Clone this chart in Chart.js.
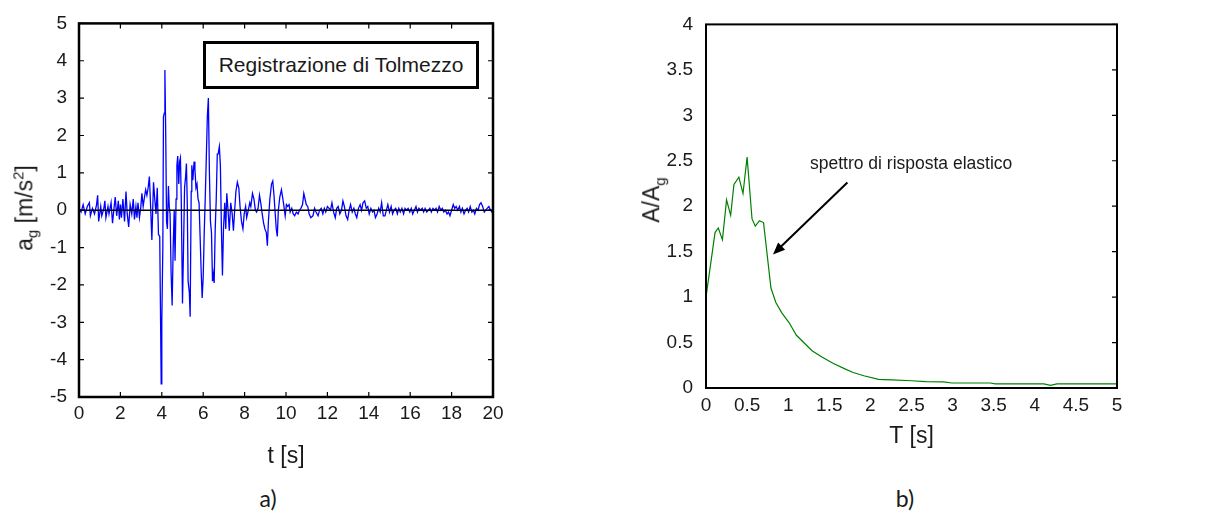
<!DOCTYPE html>
<html>
<head>
<meta charset="utf-8">
<script src="https://cdn.jsdelivr.net/npm/chart.js@4"></script>
<style>
  body { margin: 0; background: #fff; width: 1207px; height: 512px; position: relative; overflow: hidden;
         font-family: "Liberation Sans", Arial, sans-serif; color: #1a1a1a; }
  #accChart { position: absolute; left: 0; top: 0; }
  #specChart { position: absolute; left: 600px; top: 0; }
  .ytitle { position: absolute; font-size: 23px; white-space: nowrap;
            transform: translate(-50%, -50%) rotate(-90deg); }
  .ytitle sub, .ytitle sup { font-size: 15px; }
  #legendBox { position: absolute; left: 203px; top: 41px; width: 270px; height: 42px;
               border: 3px solid #000; font-size: 21px; line-height: 42px; text-align: center; background: #fff; }
  .panel { position: absolute; top: 484px; font-family: Lato, "Open Sans", sans-serif; font-size: 23px;
           transform: translateX(-50%); }
</style>
</head>
<body>
<canvas id="accChart" width="600" height="475"></canvas>
<canvas id="specChart" width="607" height="450"></canvas>
<div class="ytitle" style="left:25px; top:208px;">a<sub>g</sub> [m/s<sup>2</sup>]</div>
<div class="ytitle" style="left:653px; top:200px;">A/A<sub>g</sub></div>
<div id="legendBox">Registrazione di Tolmezzo</div>
<div class="panel" style="left:268px;">a)</div>
<div class="panel" style="left:905px;">b)</div>
<script>
// accelerogram, Tolmezzo record
const accTime = [
  0, 0.1, 0.2, 0.3, 0.4, 0.5, 0.55, 0.65, 0.75, 0.85, 0.9, 0.95, 1.05, 1.1, 1.2, 1.25, 1.3, 1.4, 1.45, 1.55,
  1.62, 1.7, 1.75, 1.82, 1.9, 1.95, 2.0, 2.05, 2.12, 2.2, 2.27, 2.33, 2.4, 2.47, 2.55, 2.62, 2.68, 2.75, 2.8, 2.85,
  2.92, 2.98, 3.04, 3.1, 3.15, 3.22, 3.28, 3.34, 3.4, 3.46, 3.52, 3.56, 3.6, 3.66, 3.72, 3.78, 3.84, 3.9, 3.94, 3.97,
  4.0, 4.05, 4.08, 4.12, 4.15, 4.19, 4.23, 4.27, 4.32, 4.36, 4.4, 4.45, 4.5, 4.55, 4.6, 4.64, 4.69, 4.73, 4.77, 4.82,
  4.86, 4.9, 4.94, 5.0, 5.05, 5.1, 5.15, 5.19, 5.23, 5.27, 5.33, 5.37, 5.42, 5.45, 5.5, 5.56, 5.6, 5.65, 5.7, 5.75,
  5.8, 5.85, 5.9, 5.95, 6.0, 6.05, 6.1, 6.15, 6.2, 6.25, 6.3, 6.35, 6.4, 6.45, 6.5, 6.53, 6.58, 6.63, 6.68, 6.72,
  6.78, 6.83, 6.88, 6.93, 6.98, 7.04, 7.09, 7.14, 7.2, 7.26, 7.33, 7.4, 7.46, 7.52, 7.58, 7.65, 7.72, 7.78, 7.85, 7.92,
  7.98, 8.05, 8.1, 8.18, 8.25, 8.3, 8.38, 8.45, 8.52, 8.58, 8.65, 8.72, 8.78, 8.85, 8.92, 8.98, 9.05, 9.1, 9.15, 9.22,
  9.3, 9.36, 9.42, 9.48, 9.53, 9.58, 9.63, 9.7, 9.78, 9.85, 9.9, 9.96, 10.02, 10.08, 10.15, 10.2, 10.28, 10.35, 10.42, 10.5,
  10.58, 10.65, 10.72, 10.8, 10.86, 10.92, 10.98, 11.05, 11.12, 11.2, 11.3, 11.38, 11.45, 11.55, 11.62, 11.7, 11.78, 11.85, 11.92, 12.0,
  12.08, 12.15, 12.22, 12.3, 12.38, 12.45, 12.52, 12.6, 12.68, 12.75, 12.82, 12.9, 12.98, 13.05, 13.12, 13.2, 13.28, 13.35, 13.42, 13.5,
  13.58, 13.65, 13.72, 13.8, 13.88, 13.95, 14.02, 14.1, 14.18, 14.25, 14.32, 14.4, 14.48, 14.55, 14.62, 14.7, 14.78, 14.85, 14.92, 15.0,
  15.08, 15.15, 15.22, 15.3, 15.38, 15.45, 15.52, 15.6, 15.68, 15.75, 15.82, 15.9, 15.98, 16.05, 16.12, 16.2, 16.28, 16.35, 16.42, 16.5,
  16.58, 16.65, 16.72, 16.8, 16.88, 16.95, 17.02, 17.1, 17.18, 17.25, 17.32, 17.4, 17.48, 17.55, 17.62, 17.7, 17.78, 17.85, 17.92, 18.0,
  18.08, 18.15, 18.22, 18.3, 18.38, 18.45, 18.52, 18.6, 18.68, 18.75, 18.82, 18.9, 18.98, 19.05, 19.12, 19.2, 19.28, 19.35, 19.42, 19.5,
  19.58, 19.65, 19.72, 19.8, 19.88, 19.95, 20.0
];
const accValues = [
  0.05, -0.05, 0.15, -0.1, 0.1, 0.2, -0.15, 0.05, -0.1, 0.15, 0.4, -0.3, 0.1, -0.15, 0.05, 0.25, -0.2, 0.1, -0.1, 0.2,
  -0.35, 0.1, 0.35, -0.15, 0.25, -0.25, 0.15, -0.2, 0.3, -0.3, 0.5, -0.1, -0.45, 0.15, -0.1, 0.3, -0.25, 0.1, -0.2, 0.2,
  -0.2, 0.05, 0.45, 0.1, 0.3, 0.55, 0.4, 0.6, 0.9, 0.1, -0.8, 0.0, 0.75, 0.3, -0.1, 0.6, -0.65, -0.7, -2.9, -4.65,
  -3.0, -1.0, 2.5, 2.6, 3.75, 2.0, -0.3, -0.5, 0.65, 0.1, -0.1, -1.7, -2.55, -1.0, 0.0, -1.35, 0.3, 1.2, 1.45, 0.7,
  1.3, 1.4, 0.3, -2.5, -1.0, 0.6, 0.9, 1.25, 0.2, -1.9, -2.2, -2.85, 0.5, 1.2, 0.8, 1.3, 1.1, 0.6, 0.7, 0.3,
  0.2, -0.7, -1.6, -2.35, -1.8, -0.6, 0.35, 1.4, 2.5, 3.0, 1.0, -0.3, -0.6, -1.9, -1.7, -1.95, -0.5, 0.3, 1.5, 1.5,
  1.7, 1.2, -0.5, -1.75, -0.5, 0.2, -0.5, 0.45, 0.0, -0.55, 0.2, -0.1, -0.55, 0.0, 0.5, 0.75, 0.6, 0.1, -0.3, -0.5,
  -0.1, 0.1, -0.2, 0.0, 0.2, 0.1, 0.45, 0.3, 0.0, -0.05, 0.05, 0.4, 0.2, -0.1, -0.35, -0.5, -0.6, -0.95, -0.3, 0.3,
  0.7, 0.78, 0.4, -0.1, -0.5, -0.7, 0.0, 0.35, 0.55, 0.3, 0.1, -0.15, 0.15, 0.1, 0.15, -0.05, 0.05, -0.1, -0.15, -0.05,
  -0.1, 0.0, 0.05, 0.15, 0.45, 0.3, 0.15, 0.1, -0.1, -0.2, -0.15, 0.05, -0.05, -0.15, 0.0, 0.05, -0.1, 0.05, -0.05, 0.1,
  0.05, 0.0, 0.2, -0.05, -0.2, 0.05, 0.1, -0.1, 0.0, 0.25, 0.1, -0.15, -0.25, 0.0, 0.15, -0.05, 0.05, -0.1, -0.2, 0.05,
  0.15, 0.0, 0.2, 0.25, 0.05, 0.1, -0.1, 0.05, -0.05, 0.0, -0.2, -0.1, 0.05, -0.05, 0.2, -0.15, -0.15, 0.0, 0.15, -0.05,
  0.1, -0.1, 0.0, 0.05, -0.1, 0.05, -0.05, 0.05, -0.1, 0.05, 0.0, 0.05, -0.05, 0.05, -0.1, 0.0, 0.1, -0.05, 0.05, 0.0,
  0.05, -0.05, 0.05, -0.05, 0.0, 0.05, -0.05, 0.05, 0.0, 0.05, -0.05, 0.1, 0.0, 0.05, -0.05, 0.0, -0.1, -0.05, -0.15, 0.0,
  0.15, 0.05, 0.1, 0.0, 0.1, -0.05, 0.05, -0.1, 0.0, 0.05, -0.05, 0.1, -0.05, 0.0, -0.1, 0.05, 0.0, 0.15, 0.2, 0.1,
  -0.05, 0.0, 0.05, 0.1, 0.0, -0.05, -0.1
];

// elastic response spectrum
const specPeriod = [0, 0.11, 0.15, 0.2, 0.25, 0.3, 0.34, 0.4, 0.45, 0.5, 0.56, 0.6, 0.65, 0.7, 0.79, 0.85, 0.92,
  1.01, 1.1, 1.29, 1.41, 1.55, 1.69, 1.79, 1.92, 2.1, 2.26, 2.5, 2.67, 2.89, 2.99, 3.46, 3.52, 4.11, 4.19, 4.27, 5];
const specValues = [1.0, 1.71, 1.76, 1.63, 2.07, 1.9, 2.24, 2.32, 2.14, 2.54, 1.86, 1.78, 1.84, 1.82, 1.1, 0.94, 0.83,
  0.72, 0.58, 0.41, 0.34, 0.27, 0.21, 0.17, 0.135, 0.095, 0.09, 0.08, 0.07, 0.068, 0.055, 0.055, 0.045, 0.045, 0.03, 0.045, 0.045];

const specNote = 'spettro di risposta elastico';
const notePos = [1.265, 2.46];
const arrowFrom = [1.72, 2.26];
const arrowTo = [0.815, 1.47];

const tickFont = { family: '"Liberation Sans", Arial, sans-serif', size: 19 };
const ink = '#1a1a1a';
const plainNum = v => String(v);

// box round the plot, inward ticks, zero line and the arrow note
const frame = {
  id: 'frame',
  afterDatasetsDraw(chart, args, opts) {
    const { ctx, chartArea: a, scales } = chart;
    const x = scales.x, y = scales.y;
    ctx.save();
    ctx.strokeStyle = '#000';
    if (opts.zeroLine) {
      const p = y.getPixelForValue(0);
      ctx.lineWidth = 1.5;
      ctx.beginPath(); ctx.moveTo(a.left, p); ctx.lineTo(a.right, p); ctx.stroke();
    }
    ctx.lineWidth = 1.2;
    ctx.beginPath();
    y.ticks.forEach(t => {
      const p = y.getPixelForValue(t.value);
      if (opts.leftTicks) { ctx.moveTo(a.left, p); ctx.lineTo(a.left + 5, p); }
      ctx.moveTo(a.right, p); ctx.lineTo(a.right - 5, p);
    });
    if (opts.xTicks) {
      x.ticks.forEach(t => {
        const p = x.getPixelForValue(t.value);
        ctx.moveTo(p, a.bottom); ctx.lineTo(p, a.bottom - 5);
        ctx.moveTo(p, a.top); ctx.lineTo(p, a.top + 5);
      });
    }
    ctx.stroke();
    ctx.lineWidth = opts.width;
    ctx.strokeRect(a.left, a.top, a.right - a.left, a.bottom - a.top);

    if (opts.note) {
      const fx = x.getPixelForValue(arrowFrom[0]), fy = y.getPixelForValue(arrowFrom[1]);
      const tx = x.getPixelForValue(arrowTo[0]), ty = y.getPixelForValue(arrowTo[1]);
      const ang = Math.atan2(ty - fy, tx - fx);
      ctx.lineWidth = 2;
      ctx.beginPath(); ctx.moveTo(fx, fy);
      ctx.lineTo(tx - 8 * Math.cos(ang), ty - 8 * Math.sin(ang)); ctx.stroke();
      ctx.fillStyle = '#000';
      ctx.beginPath();
      ctx.moveTo(tx, ty);
      ctx.lineTo(tx - 12 * Math.cos(ang) + 5 * Math.sin(ang), ty - 12 * Math.sin(ang) - 5 * Math.cos(ang));
      ctx.lineTo(tx - 12 * Math.cos(ang) - 5 * Math.sin(ang), ty - 12 * Math.sin(ang) + 5 * Math.cos(ang));
      ctx.closePath(); ctx.fill();
      ctx.fillStyle = ink;
      ctx.font = '17.5px "Liberation Sans", Arial, sans-serif';
      ctx.textBaseline = 'middle';
      ctx.fillText(specNote, x.getPixelForValue(notePos[0]), y.getPixelForValue(notePos[1]));
    }
    ctx.restore();
  }
};

Chart.defaults.color = ink;
Chart.defaults.font.family = '"Liberation Sans", Arial, sans-serif';

// a) accelerogram
new Chart(document.getElementById('accChart'), {
  type: 'line',
  data: {
    datasets: [{
      data: accTime.map((t, i) => ({ x: t, y: accValues[i] })),
      borderColor: '#0000ff',
      borderWidth: 1.3,
      pointRadius: 0,
      tension: 0
    }]
  },
  options: {
    responsive: false,
    animation: false,
    devicePixelRatio: 1,
    layout: { padding: { top: 22, right: 107, left: 0, bottom: 0 } },
    plugins: {
      legend: { display: false },
      tooltip: { enabled: false },
      frame: { width: 2.5, zeroLine: true, leftTicks: true, xTicks: true }
    },
    scales: {
      x: {
        type: 'linear', min: 0, max: 20,
        grid: { display: false, drawTicks: false },
        border: { display: false },
        ticks: { stepSize: 2, font: tickFont, padding: 5, maxRotation: 0, callback: plainNum },
        title: { display: true, text: 't [s]', font: { size: 23 }, padding: { top: 0, bottom: 5 } },
        afterFit: s => { s.height = 78; }
      },
      y: {
        min: -5, max: 5,
        grid: { display: false, drawTicks: false },
        border: { display: false },
        ticks: { stepSize: 1, font: tickFont, padding: 12, callback: plainNum },
        afterFit: s => { s.width = 79; }
      }
    }
  },
  plugins: [frame]
});

// b) response spectrum
new Chart(document.getElementById('specChart'), {
  type: 'line',
  data: {
    datasets: [{
      data: specPeriod.map((t, i) => ({ x: t, y: specValues[i] })),
      borderColor: '#008000',
      borderWidth: 1.2,
      pointRadius: 0,
      tension: 0
    }]
  },
  options: {
    responsive: false,
    animation: false,
    devicePixelRatio: 1,
    layout: { padding: { top: 13, right: 90, left: 0, bottom: 0 } },
    plugins: {
      legend: { display: false },
      tooltip: { enabled: false },
      frame: { width: 2, zeroLine: false, leftTicks: false, xTicks: false, note: true }
    },
    scales: {
      x: {
        type: 'linear', min: 0, max: 5,
        grid: { display: false, drawTicks: false },
        border: { display: false },
        ticks: { stepSize: 0.5, font: tickFont, padding: 6, maxRotation: 0, callback: plainNum },
        title: { display: true, text: 'T [s]', font: { size: 23 }, padding: { top: 0, bottom: 0 } },
        afterFit: s => { s.height = 62; }
      },
      y: {
        min: 0, max: 4,
        grid: { display: false, drawTicks: false },
        border: { display: false },
        ticks: { stepSize: 0.5, font: tickFont, padding: 13, callback: plainNum },
        afterFit: s => { s.width = 106; }
      }
    }
  },
  plugins: [frame]
});
</script>
</body>
</html>
